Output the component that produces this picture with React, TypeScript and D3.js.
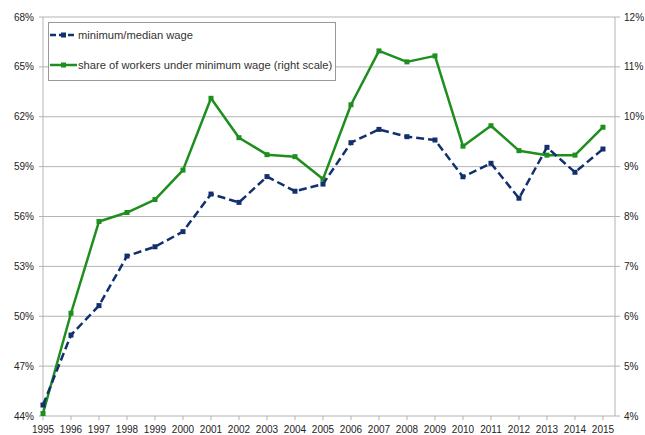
import React from "react";
import * as d3 from "d3";

const years = [1995,1996,1997,1998,1999,2000,2001,2002,2003,2004,2005,2006,2007,2008,2009,2010,2011,2012,2013,2014,2015];
const minMedian = [44.66,48.87,50.64,53.62,54.18,55.09,57.35,56.85,58.4,57.52,57.95,60.44,61.24,60.8,60.6,58.39,59.2,57.1,60.16,58.66,60.06];
const shareUnder = [4.05,6.06,7.9,8.08,8.34,8.93,10.37,9.58,9.24,9.2,8.75,10.24,11.32,11.1,11.22,9.41,9.82,9.32,9.23,9.23,9.79];
const leftTicks = [44,47,50,53,56,59,62,65,68];
const rightTicks = [4,5,6,7,8,9,10,11,12];
const legendLabels = ["minimum/median wage", "share of workers under minimum wage (right scale)"];

const W = 645, H = 435;
const L = 43, R = 615, T = 17, B = 416;
const BLUE = "#12306e";
const GREEN = "#1e8f1e";
const GRID = "#b3b3b3";
const FONT = "'Liberation Sans', Arial, sans-serif";

export default function App() {
  const x = d3.scaleLinear().domain([1995, 2015.43]).range([L, R]);
  const yL = d3.scaleLinear().domain([44, 68]).range([B, T]);
  const yR = d3.scaleLinear().domain([4, 12]).range([B, T]);

  const blueLine = d3.line<number>().x((_, i) => x(years[i])).y((d) => yL(d))(minMedian) || "";
  const greenLine = d3.line<number>().x((_, i) => x(years[i])).y((d) => yR(d))(shareUnder) || "";

  return (
    <svg width={W} height={H} style={{ position: "absolute", left: 0, top: 0, background: "#fff" }}>
      <rect x={0} y={0} width={W} height={H} fill="#fff" />
      {leftTicks.map((t) => (
        <g key={"g" + t}>
          <line x1={L - 4} x2={R + 5} y1={yL(t)} y2={yL(t)} stroke={GRID} strokeWidth={1} />
          <text x={34} y={yL(t)} dy="0.35em" textAnchor="end" fontFamily={FONT} fontSize={10} fill="#222">{t}%</text>
        </g>
      ))}
      {rightTicks.map((t) => (
        <text key={"r" + t} x={624} y={yR(t)} dy="0.35em" textAnchor="start" fontFamily={FONT} fontSize={10} fill="#222">{t}%</text>
      ))}
      <line x1={L} x2={L} y1={T} y2={B} stroke={GRID} strokeWidth={1} />
      <line x1={R} x2={R} y1={T} y2={B} stroke={GRID} strokeWidth={1} />
      {years.map((yr) => (
        <g key={"x" + yr}>
          <line x1={x(yr)} x2={x(yr)} y1={B} y2={B + 4} stroke={GRID} strokeWidth={1} />
          <text x={x(yr)} y={433} textAnchor="middle" fontFamily={FONT} fontSize={10} fill="#222">{yr}</text>
        </g>
      ))}
      <path d={greenLine} fill="none" stroke={GREEN} strokeWidth={2.5} strokeLinejoin="round" />
      {shareUnder.map((v, i) => (
        <rect key={"gm" + i} x={x(years[i]) - 2.5} y={yR(v) - 2.5} width={5} height={5} fill={GREEN} />
      ))}
      <path d={blueLine} fill="none" stroke={BLUE} strokeWidth={2.5} strokeDasharray="8,4" />
      {minMedian.map((v, i) => (
        <rect key={"bm" + i} x={x(years[i]) - 2.5} y={yL(v) - 2.5} width={5} height={5} fill={BLUE} />
      ))}
      <rect x={48.5} y={22.5} width={287} height={58} fill="#fff" stroke="#999" strokeWidth={1} />
      <line x1={50} x2={77} y1={35} y2={35} stroke={BLUE} strokeWidth={2.5} strokeDasharray="6,3" />
      <rect x={61} y={32.5} width={5} height={5} fill={BLUE} />
      <text x={78} y={35} dy="0.35em" fontFamily={FONT} fontSize={11.2} fill="#333">{legendLabels[0]}</text>
      <line x1={50} x2={77} y1={65} y2={65} stroke={GREEN} strokeWidth={2.5} />
      <rect x={61} y={62.5} width={5} height={5} fill={GREEN} />
      <text x={78} y={65} dy="0.35em" fontFamily={FONT} fontSize={11.2} fill="#333">{legendLabels[1]}</text>
    </svg>
  );
}
